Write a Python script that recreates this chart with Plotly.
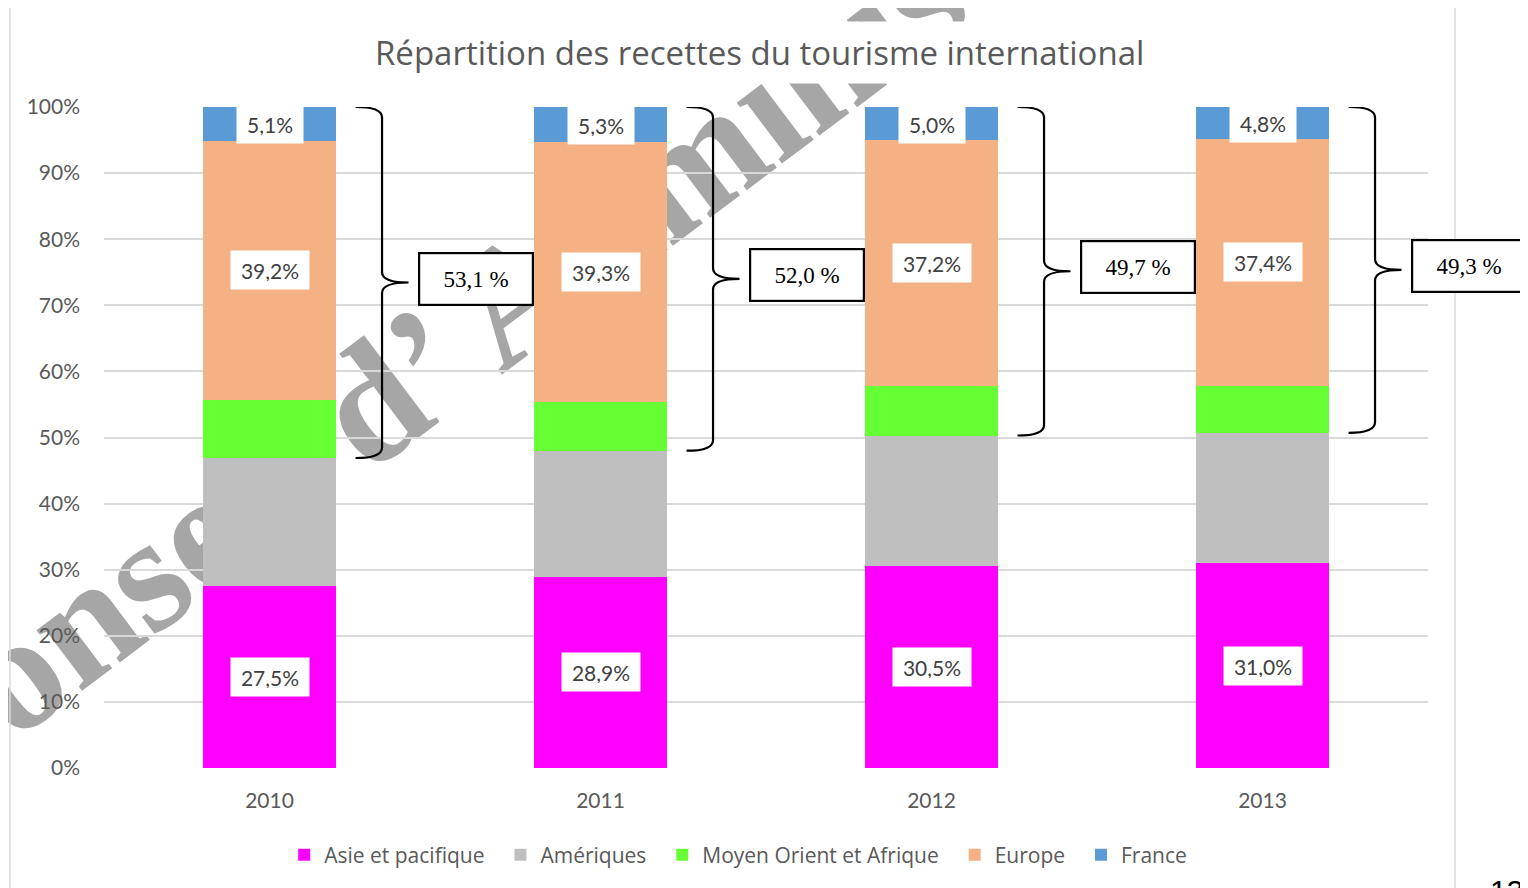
import plotly.graph_objects as go

# ---------------- data ----------------
years = ["2010", "2011", "2012", "2013"]
asie = [27.5, 28.9, 30.5, 31.0]
ameriques = [19.4, 19.1, 19.8, 19.7]
moyen_orient = [8.8, 7.4, 7.5, 7.1]
europe = [39.2, 39.3, 37.2, 37.4]
france = [5.1, 5.3, 5.0, 4.8]
bracket_values = [53.1, 52.0, 49.7, 49.3]   # France + Europe + Moyen Orient
series_names = ["Asie et pacifique", "Amériques", "Moyen Orient et Afrique", "Europe", "France"]
series_colors = ["#FF00FF", "#BFBFBF", "#66FF33", "#F4B183", "#5B9BD5"]
series_labelled = [True, False, False, True, True]
y_ticks = [0, 10, 20, 30, 40, 50, 60, 70, 80, 90, 100]
title_text = "Répartition des recettes du tourisme international"
watermark_text = "Conseil d’ Administration"
page_number = "13"

series_values = [asie, ameriques, moyen_orient, europe, france]
x_pos = list(range(len(years)))

FONT = "Lato"
FONT2 = "Open Sans"
GREY_TXT = "#595959"
NB = "\u00a0\u00a0"

fig = go.Figure()
for k, (name, vals, col) in enumerate(zip(series_names, series_values, series_colors)):
    shown = name + (NB if k < len(series_names) - 1 else "")
    fig.add_trace(go.Bar(x=x_pos, y=vals, name=shown, width=0.4,
                         marker=dict(color=col, line=dict(width=0))))

annotations = []
shapes = []

# watermark (behind grid & bars)
wcx, wcy = 0.3723, 0.8427
shapes.append(dict(type="line", xref="paper", yref="paper",
                   x0=wcx - 0.06, y0=wcy - 0.091, x1=wcx + 0.06, y1=wcy + 0.091,
                   line=dict(width=0, color="rgba(0,0,0,0)"), layer="below",
                   label=dict(text=watermark_text, textangle=-37, textposition="middle",
                              yanchor="middle", padding=0,
                              font=dict(family="Liberation Serif", size=165, weight="bold",
                                        color="#A6A6A6"))))

# data labels (white boxes)
cum = [0.0] * len(years)
for vals, lab in zip(series_values, series_labelled):
    for i, v in enumerate(vals):
        if lab:
            txt = f"{v:.1f}%".replace(".", ",")
            annotations.append(dict(x=x_pos[i], y=cum[i] + v / 2, xref="x", yref="y",
                                    text=txt, showarrow=False, bgcolor="white",
                                    width=len(txt) * 12 + 2, height=22, borderpad=8,
                                    font=dict(family=FONT, size=21, color="#404040")))
        cum[i] += v

# braces + boxes
dl, dv, dt, dbox = 0.26, 0.34, 0.42, 0.45
for i, bv in enumerate(bracket_values):
    top = 100.0
    bot = 100.0 - bv
    mid = (top + bot) / 2
    r = 1.6
    xc = x_pos[i]
    xl, xv, xt = xc + dl, xc + dv, xc + dt
    path = (f"M {xl},{top} Q {xv},{top} {xv},{top - r} "
            f"L {xv},{mid + r} Q {xv},{mid} {xt},{mid} "
            f"Q {xv},{mid} {xv},{mid - r} "
            f"L {xv},{bot + r} Q {xv},{bot} {xl},{bot}")
    shapes.append(dict(type="path", xref="x", yref="y", path=path,
                       line=dict(color="black", width=2.2), layer="above"))
    annotations.append(dict(x=xc + dbox, y=mid + 0.6, xref="x", yref="y", xanchor="left",
                            text=f"{bv:.1f} %".replace(".", ","), showarrow=False,
                            bgcolor="white", bordercolor="black", borderwidth=2.2,
                            width=108, height=46, borderpad=2,
                            font=dict(family="Liberation Serif", size=23, color="black")))

# chart frame
shapes.append(dict(type="rect", xref="paper", yref="paper",
                   x0=-0.0710, x1=1.0204, y0=-0.25, y1=1.1528,
                   line=dict(color="#D9D9D9", width=1.5), layer="above"))

# title with white background (covers the watermark)
annotations.append(dict(x=0.4951, y=1.0832, xref="paper", yref="paper", text=title_text,
                        xanchor="center", yanchor="middle",
                        showarrow=False, bgcolor="white", borderpad=8,
                        font=dict(family=FONT2, size=33, color=GREY_TXT)))

# page number fragment at the bottom right
annotations.append(dict(x=1.0453, y=-0.158, xref="paper", yref="paper", text=page_number,
                        xanchor="left", yanchor="top", showarrow=False,
                        font=dict(family="Liberation Sans", size=30, color="black")))

fig.update_layout(
    width=1520, height=880, autosize=False,
    margin=dict(l=96, r=100, t=99, b=120),
    paper_bgcolor="white", plot_bgcolor="white",
    barmode="stack", bargap=0.6,
    showlegend=True,
    legend=dict(orientation="h", x=0.479, xanchor="center", y=-0.1316, yanchor="middle",
                traceorder="normal", font=dict(family=FONT2, size=21, color=GREY_TXT),
                itemwidth=30, bgcolor="rgba(0,0,0,0)"),
    xaxis=dict(range=[-0.5, 3.5], tickvals=x_pos, ticktext=years, showgrid=False,
               zeroline=False, showline=False, ticks="", ticklabelstandoff=18,
               tickfont=dict(family=FONT, size=21, color=GREY_TXT)),
    yaxis=dict(range=[0, 100], tickvals=y_ticks, ticktext=[f"{t}%" for t in y_ticks],
               showgrid=True, gridcolor="#D9D9D9", gridwidth=1.5, zeroline=False,
               showline=False, ticks="", ticklabelstandoff=23,
               tickfont=dict(family=FONT, size=21, color=GREY_TXT)),
    shapes=shapes, annotations=annotations,
)

fig.write_html("out.html")
